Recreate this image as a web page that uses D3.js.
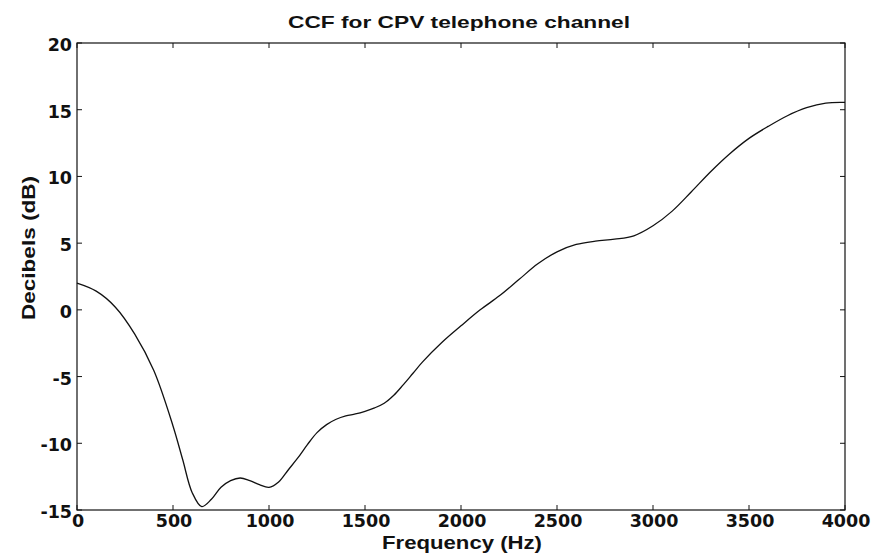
<!DOCTYPE html>
<html>
<head>
<meta charset="utf-8">
<script src="https://cdn.jsdelivr.net/npm/d3@7"></script>
<style>
html,body{margin:0;padding:0;background:#fff;}
svg{display:block;}
</style>
</head>
<body>
<svg id="chart" width="875" height="558"></svg>
<script>
const freq = [0,100,200,300,400,500,550,600,650,700,750,800,850,900,950,1000,1050,1100,1150,1200,1250,1300,1350,1400,1450,1500,1550,1600,1650,1700,1750,1800,1900,2000,2100,2200,2300,2400,2500,2600,2700,2800,2900,3000,3100,3200,3300,3400,3500,3600,3700,3800,3900,4000];
const decibels = [2.0,1.4,0.2,-1.8,-4.55,-8.7,-11.2,-13.7,-14.75,-14.2,-13.3,-12.8,-12.6,-12.8,-13.1,-13.3,-12.9,-12.0,-11.1,-10.1,-9.2,-8.6,-8.2,-7.95,-7.8,-7.6,-7.35,-7.0,-6.4,-5.6,-4.75,-3.9,-2.45,-1.2,0.0,1.05,2.25,3.45,4.35,4.9,5.15,5.3,5.55,6.3,7.4,8.85,10.35,11.7,12.85,13.75,14.55,15.15,15.5,15.55];
const xTicks = [0,500,1000,1500,2000,2500,3000,3500,4000];
const yTicks = [-15,-10,-5,0,5,10,15,20];
const titleText = "CCF for CPV telephone channel";
const xLabel = "Frequency (Hz)";
const yLabel = "Decibels (dB)";

const svg = d3.select("#chart");
const L = 77, R = 845, T = 43, B = 510;
const x = d3.scaleLinear().domain([0,4000]).range([L,R]);
const y = d3.scaleLinear().domain([-15,20]).range([B,T]);
const ink = "#111";
const tickFont = "'DejaVu Sans', sans-serif";

// frame
svg.append("rect").attr("x",L).attr("y",T).attr("width",R-L).attr("height",B-T)
  .attr("fill","none").attr("stroke",ink).attr("stroke-width",1.2);

// inward ticks
const tl = 5;
const g = svg.append("g").attr("stroke",ink).attr("stroke-width",1);
xTicks.forEach(t=>{
  g.append("line").attr("x1",x(t)).attr("x2",x(t)).attr("y1",B).attr("y2",B-tl);
  g.append("line").attr("x1",x(t)).attr("x2",x(t)).attr("y1",T).attr("y2",T+tl);
});
yTicks.forEach(t=>{
  g.append("line").attr("x1",L).attr("x2",L+tl).attr("y1",y(t)).attr("y2",y(t));
  g.append("line").attr("x1",R).attr("x2",R-tl).attr("y1",y(t)).attr("y2",y(t));
});

// tick labels
svg.append("g").selectAll("text").data(xTicks).join("text")
  .attr("x",d=>x(d)+1).attr("y",527)
  .attr("text-anchor","middle")
  .attr("font-family",tickFont).attr("font-weight","bold").attr("font-size",17.5)
  .attr("fill",ink).text(d=>d);
svg.append("g").selectAll("text").data(yTicks).join("text")
  .attr("x",L-5).attr("y",d=>y(d)+8)
  .attr("text-anchor","end")
  .attr("font-family",tickFont).attr("font-weight","bold").attr("font-size",17.5)
  .attr("fill",ink).text(d=>d);

// curve
const line = d3.line().x((d,i)=>x(freq[i])).y(d=>y(d)).curve(d3.curveCatmullRom.alpha(0.5));
svg.append("path").datum(decibels).attr("d",line)
  .attr("fill","none").attr("stroke",ink).attr("stroke-width",1.3);

// title & labels
svg.append("text").attr("x",459).attr("y",28).attr("text-anchor","middle")
  .attr("font-family","'Liberation Sans', Arial, sans-serif").attr("font-size",16.5)
  .attr("font-weight","bold")
  .attr("textLength",342).attr("lengthAdjust","spacingAndGlyphs")
  .attr("fill",ink).text(titleText);
svg.append("text").attr("x",462).attr("y",549).attr("text-anchor","middle")
  .attr("font-family","'Liberation Sans', Arial, sans-serif").attr("font-size",17.5)
  .attr("font-weight","bold")
  .attr("textLength",160).attr("lengthAdjust","spacingAndGlyphs")
  .attr("fill",ink).text(xLabel);
svg.append("text").attr("transform","translate(35,248) rotate(-90)").attr("text-anchor","middle")
  .attr("font-family","'Liberation Sans', Arial, sans-serif").attr("font-size",17.5)
  .attr("font-weight","bold")
  .attr("textLength",144).attr("lengthAdjust","spacingAndGlyphs")
  .attr("fill",ink).text(yLabel);
</script>
</body>
</html>
